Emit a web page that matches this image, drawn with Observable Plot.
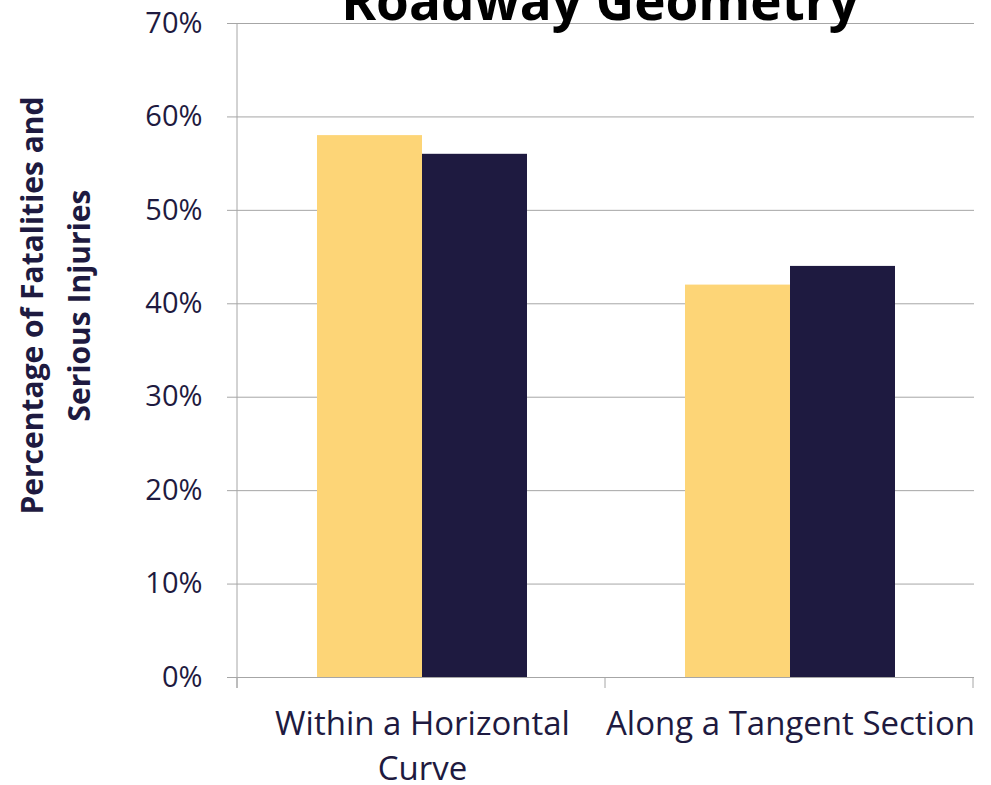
<!DOCTYPE html>
<html><head><meta charset="utf-8">
<script src="https://cdn.jsdelivr.net/npm/d3@7"></script>
<script src="https://cdn.jsdelivr.net/npm/@observablehq/plot@0.6"></script>
<style>
body{margin:0;background:#fff;overflow:hidden}
#wrap{position:relative;width:991px;height:785px;overflow:hidden}
#title{position:absolute;left:226px;right:17px;top:-27px;text-align:center;font:bold 53px "Open Sans";line-height:1;color:#000;white-space:nowrap}
</style></head><body>
<div id="wrap"><div id="chart"></div><div id="title">Roadway Geometry</div></div>
<script>
const categories = ["Within a Horizontal Curve", "Along a Tangent Section"];
const categoryLabels = ["Within a Horizontal\nCurve", "Along a Tangent Section"];
const seriesNames = ["Series 1", "Series 2"];
const series1Values = [0.58, 0.42];
const series2Values = [0.56, 0.44];
const yTicks = [0, 0.1, 0.2, 0.3, 0.4, 0.5, 0.6, 0.7];
const seriesColors = ["#fdd577", "#1e1a40"];
const yLabel = "Percentage of Fatalities and\nSerious Injuries";

const data = [];
categories.forEach((c, i) => {
  data.push({category: c, series: seriesNames[0], value: series1Values[i]});
  data.push({category: c, series: seriesNames[1], value: series2Values[i]});
});

const gridColor = "#a6a6a6";
const textColor = "#1e1a40";

const chart = Plot.plot({
  width: 991, height: 785,
  marginLeft: 237, marginRight: 17, marginTop: 23, marginBottom: 108,
  style: {background: "#fff", overflow: "visible"},
  fx: {domain: categories, padding: 0, label: null},
  x: {domain: seriesNames, paddingInner: 0, paddingOuter: 0.75, axis: null},
  y: {domain: [0, 0.7], label: null},
  color: {domain: seriesNames, range: seriesColors},
  marks: [
    Plot.gridY(yTicks, {stroke: gridColor, strokeOpacity: 1, strokeWidth: 1}),
    Plot.barY(data, {fx: "category", x: "series", y: "value", fill: "series"}),
    Plot.axisY(yTicks, {tickFormat: d3.format(".0%"), tickSize: 11, tickPadding: 25, stroke: gridColor, fill: textColor, fontSize: 29, fontFamily: "Open Sans", label: null}),
    Plot.axisFx({anchor: "bottom", tickSize: 0, tickPadding: 26, tickFormat: (d) => categoryLabels[categories.indexOf(d)], fill: textColor, fontSize: 33, fontFamily: "Open Sans", lineHeight: 1.36, lineAnchor: "top", label: null}),
    Plot.text([yLabel], {facet: "super", frameAnchor: "left", rotate: -90, dx: -187, dy: -45, fontSize: 30, fontWeight: "bold", fontFamily: "Open Sans", fill: textColor, lineHeight: 1.55, textAnchor: "middle", lineAnchor: "middle"})
  ]
});
document.getElementById("chart").appendChild(chart);

// axis line and category boundary ticks, from the scales
const fx = chart.scale("fx");
const y = chart.scale("y");
const svg = d3.select(chart);
const y0 = y.apply(0), yTop = y.apply(0.7);
const left = fx.range[0];
const bounds = d3.range(categories.length + 1).map(i => left + i * fx.step);
svg.append("line").attr("x1", left).attr("x2", left).attr("y1", yTop).attr("y2", y0 + 11).attr("stroke", gridColor);
svg.selectAll(null).data(bounds).join("line")
  .attr("x1", d => d).attr("x2", d => d).attr("y1", y0).attr("y2", y0 + 11).attr("stroke", gridColor);
</script>
</body></html>
